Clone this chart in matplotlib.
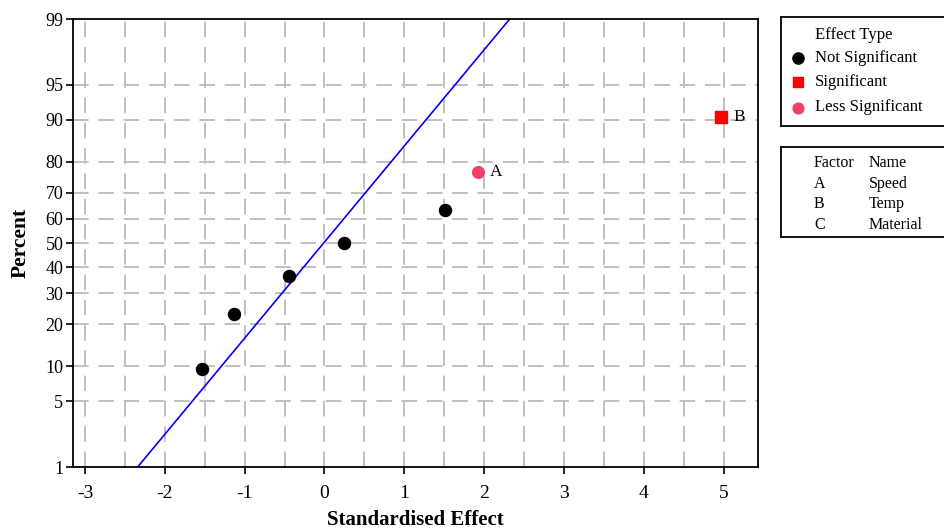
#!/usr/bin/env python3
"""Normal probability plot of standardised effects."""
from statistics import NormalDist

import numpy as np
import matplotlib

matplotlib.use("Agg")
import matplotlib.pyplot as plt

plt.rcParams["font.family"] = ["Liberation Serif", "DejaVu Serif"]

# effects (standardised) and their plotting percents
NS_EFFECT = [-1.54, -1.13, -0.45, 0.24, 1.51]
NS_PERCENT = [9.46, 22.97, 36.49, 50.0, 63.51]
LESS_EFFECT = [1.92]
LESS_PERCENT = [77.03]
SIG_EFFECT = [4.97]
SIG_PERCENT = [90.54]
POINT_LABELS = ["A", "B"]

# reference line (effect, percent) endpoints
LINE_EFFECT = [-2.34, 2.32]
LINE_PERCENT = [1, 99]

X_TICKS = [-3, -2, -1, 0, 1, 2, 3, 4, 5]
Y_TICKS = [1, 5, 10, 20, 30, 40, 50, 60, 70, 80, 90, 95, 99]

FACTORS = ["A", "B", "C"]
FACTOR_NAMES = ["Speed", "Temp", "Material"]

PINK = "#f0406a"
RED = "#ff0000"
GRID = "#c0c0c0"

nd = NormalDist()


def fwd(p):
    p = np.clip(np.asarray(p, dtype=float), 0.001, 99.999)
    return np.vectorize(lambda v: nd.inv_cdf(v / 100.0), otypes=[float])(p)


def inv(z):
    z = np.asarray(z, dtype=float)
    return np.vectorize(lambda v: nd.cdf(v) * 100.0, otypes=[float])(z)


fig = plt.figure(figsize=(9.45, 5.29), dpi=100)
ax = fig.add_axes([73 / 945, 1 - 467 / 529, 685 / 945, 448 / 529])
ax.set_yscale("function", functions=(fwd, inv))

# grid
for x in np.arange(-3, 5.01, 0.5):
    ax.axvline(x, color=GRID, lw=1.4, ls=(0, (8, 5)), zorder=1)
for y in Y_TICKS[1:-1]:
    ax.axhline(y, color=GRID, lw=1.4, ls=(0, (8, 5)), zorder=1)

ax.plot(LINE_EFFECT, LINE_PERCENT, color="#0000ff", lw=1.2, zorder=2)
ax.scatter(NS_EFFECT, NS_PERCENT, s=75, c="black", zorder=3)
ax.scatter(LESS_EFFECT, LESS_PERCENT, s=70, c=PINK, zorder=3)
ax.scatter(SIG_EFFECT, SIG_PERCENT, s=70, c=RED, marker="s", zorder=3)
for lbl, x, y in zip(POINT_LABELS, LESS_EFFECT + SIG_EFFECT, LESS_PERCENT + SIG_PERCENT):
    ax.annotate(lbl, (x, y), xytext=(9, 0), textcoords="offset points",
                va="center", fontsize=12.5)

ax.set_xlim(-3.15, 5.43)
ax.set_ylim(1, 99)
ax.set_xticks(X_TICKS)
ax.set_xticklabels([str(t) for t in X_TICKS])
ax.set_yticks(Y_TICKS)
ax.set_yticklabels([str(t) for t in Y_TICKS])
ax.yaxis.set_minor_locator(plt.NullLocator())
ax.tick_params(direction="out", length=5, width=1.2)
ax.tick_params(axis="x", labelsize=14, pad=8)
ax.tick_params(axis="y", labelsize=13, pad=2)
for s in ax.spines.values():
    s.set_linewidth(1.3)
ax.set_xlabel("Standardised Effect", fontsize=15, fontweight="bold", va="center")
ax.xaxis.set_label_coords(0.5, -(520 - 467) / 448)
ax.set_ylabel("Percent", fontsize=15.5, fontweight="bold", va="center")
ax.yaxis.set_label_coords(-(73 - 21) / 685, 0.5)

# legend box: effect type
lg = fig.add_axes([781 / 945, 1 - 126 / 529, 200 / 945, 109 / 529])
lg.set_xticks([])
lg.set_yticks([])
lg.set_xlim(0, 200)
lg.set_ylim(109, 0)
for s in lg.spines.values():
    s.set_linewidth(1.3)
lg.text(34, 18, "Effect Type", fontsize=12, va="center")
lg.scatter([17], [41], s=65, c="black")
lg.text(34, 41, "Not Significant", fontsize=12, va="center")
lg.scatter([17], [65], s=55, c=RED, marker="s")
lg.text(34, 65, "Significant", fontsize=12, va="center")
lg.scatter([17], [91], s=60, c=PINK)
lg.text(34, 90, "Less Significant", fontsize=12, va="center")

# factor table
ft = fig.add_axes([781 / 945, 1 - 237 / 529, 200 / 945, 90 / 529])
ft.set_xticks([])
ft.set_yticks([])
ft.set_xlim(0, 200)
ft.set_ylim(90, 0)
for s in ft.spines.values():
    s.set_linewidth(1.3)
ft.text(33, 16, "Factor", fontsize=11.5, va="center")
ft.text(88, 16, "Name", fontsize=11.5, va="center")
for i, (f, n) in enumerate(zip(FACTORS, FACTOR_NAMES)):
    ft.text(33, 37 + i * 20.3, f, fontsize=11.5, va="center")
    ft.text(88, 37 + i * 20.3, n, fontsize=11.5, va="center")

fig.savefig("out.png", dpi=100)
